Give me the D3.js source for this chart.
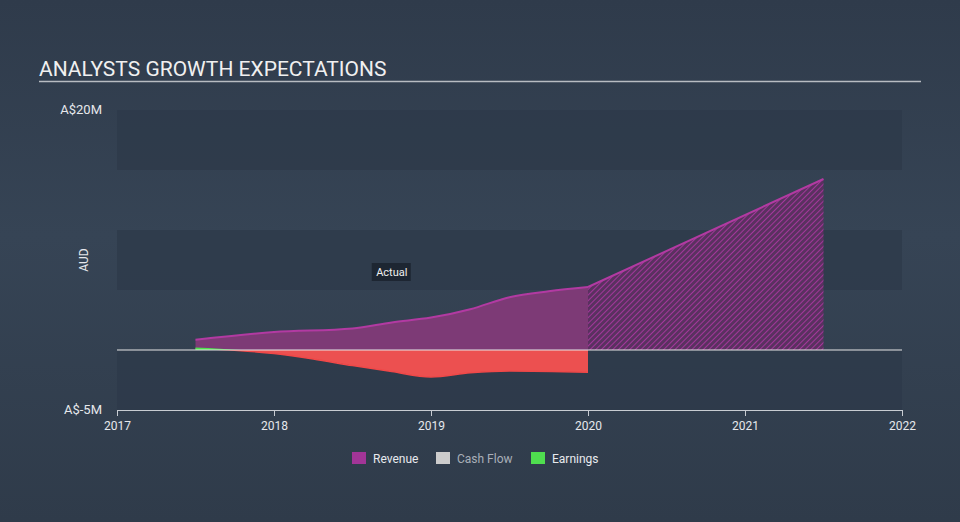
<!DOCTYPE html>
<html>
<head>
<meta charset="utf-8">
<script src="https://cdnjs.cloudflare.com/ajax/libs/d3/7.8.5/d3.min.js"></script>
<style>
  body { margin: 0; background: #333f4f; font-family: Roboto, "Noto Sans", sans-serif; }
  svg { display: block; }
</style>
</head>
<body>
<svg width="960" height="522"></svg>
<script>
// data (millions AUD)
const revenueYears = [2017.5, 2018, 2018.5, 2018.75, 2019, 2019.25, 2019.5, 2019.75, 2020];
const revenueValues = [0.85, 1.5, 1.8, 2.3, 2.7, 3.4, 4.4, 4.9, 5.25];
const forecastYears = [2020, 2021.5];
const forecastValues = [5.25, 14.25];
const earningsYears = [2017.5, 2018, 2018.25, 2018.5, 2018.75, 2019, 2019.25, 2019.5, 2020];
const earningsValues = [0.15, -0.3, -0.75, -1.3, -1.8, -2.25, -1.9, -1.75, -1.85];
const yTickValues = [20, -5];
const yTickLabels = ["A$20M", "A$-5M"];
const xTickValues = [2017, 2018, 2019, 2020, 2021, 2022];
const legendNames = ["Revenue", "Cash Flow", "Earnings"];
const legendColors = ["#a23597", "#cccccc", "#4fde4f"];

const svg = d3.select("svg");
const plotLeft = 117, plotRight = 902, plotTop = 110, plotBottom = 410;

const x = d3.scaleLinear().domain([2017, 2022]).range([plotLeft, plotRight]);
const y = d3.scaleLinear().domain([-5, 20]).range([plotBottom, plotTop]);

// background gradient
const defs = svg.append("defs");
const bg = defs.append("linearGradient").attr("id", "bg").attr("x1", 0).attr("y1", 0).attr("x2", 0).attr("y2", 1);
bg.append("stop").attr("offset", "0%").attr("stop-color", "#2f3b4b");
bg.append("stop").attr("offset", "45%").attr("stop-color", "#364455");
bg.append("stop").attr("offset", "100%").attr("stop-color", "#2f3b4a");
svg.append("rect").attr("width", 960).attr("height", 522).attr("fill", "url(#bg)");

// hatch pattern for forecast
const pat = defs.append("pattern").attr("id", "hatch").attr("patternUnits", "userSpaceOnUse")
  .attr("width", 4).attr("height", 4).attr("patternTransform", "rotate(45)");
pat.append("rect").attr("width", 4).attr("height", 4).attr("fill", "#5a3160");
pat.append("line").attr("x1", 0).attr("y1", 0).attr("x2", 0).attr("y2", 4)
  .attr("stroke", "#a2379a").attr("stroke-width", 2);

defs.append("clipPath").attr("id", "posClip").append("rect")
  .attr("x", 0).attr("y", 0).attr("width", 960).attr("height", y(0));
defs.append("clipPath").attr("id", "negClip").append("rect")
  .attr("x", 0).attr("y", y(0)).attr("width", 960).attr("height", 522);

// bands
const bandSteps = [20, 15, 10, 5, 0];
svg.selectAll(".band").data(bandSteps).enter().append("rect")
  .attr("x", plotLeft).attr("width", plotRight - plotLeft)
  .attr("y", d => y(d)).attr("height", d => y(d - 5) - y(d))
  .attr("fill", (d, i) => i % 2 === 0 ? "#2e3a4a" : "none")
  .attr("opacity", 0.75);

// title
svg.append("text").attr("x", 39).attr("y", 76).text("ANALYSTS GROWTH EXPECTATIONS")
  .attr("fill", "#f0f0f0").attr("font-size", 21).attr("font-family", "Roboto");
svg.append("line").attr("x1", 39).attr("x2", 921).attr("y1", 81.5).attr("y2", 81.5)
  .attr("stroke", "#b8bcc2").attr("stroke-width", 1.5);

const area = d3.area().x(d => x(d.x)).y0(y(0)).y1(d => y(d.v)).curve(d3.curveMonotoneX);
const line = d3.line().x(d => x(d.x)).y(d => y(d.v)).curve(d3.curveMonotoneX);
const areaLin = d3.area().x(d => x(d.x)).y0(y(0)).y1(d => y(d.v));
const lineLin = d3.line().x(d => x(d.x)).y(d => y(d.v));

// revenue
const revData = revenueYears.map((d, i) => ({ x: d, v: revenueValues[i] }));
const fcData = forecastYears.map((d, i) => ({ x: d, v: forecastValues[i] }));
svg.append("path").datum(revData).attr("d", area).attr("fill", "#7d3a76");
svg.append("path").datum(fcData).attr("d", areaLin).attr("fill", "url(#hatch)");

// earnings
const earnData = earningsYears.map((d, i) => ({ x: d, v: earningsValues[i] }));
svg.append("path").datum(earnData).attr("d", area).attr("fill", "#ec5050")
  .attr("clip-path", "url(#negClip)");
svg.append("path").datum(earnData).attr("d", area).attr("fill", "#4fde4f")
  .attr("clip-path", "url(#posClip)");
svg.append("path").datum(earnData).attr("d", line).attr("fill", "none")
  .attr("stroke", "#f04848").attr("stroke-width", 1.5).attr("clip-path", "url(#negClip)");
svg.append("path").datum(earnData).attr("d", line).attr("fill", "none")
  .attr("stroke", "#4fde4f").attr("stroke-width", 1.5).attr("clip-path", "url(#posClip)");

svg.append("path").datum(revData).attr("d", line).attr("fill", "none")
  .attr("stroke", "#b23aa2").attr("stroke-width", 2);
svg.append("path").datum(fcData).attr("d", lineLin).attr("fill", "none")
  .attr("stroke", "#b23aa2").attr("stroke-width", 2);

// zero line
svg.append("line").attr("x1", plotLeft).attr("x2", plotRight).attr("y1", y(0)).attr("y2", y(0))
  .attr("stroke", "#e6e6e6").attr("stroke-width", 1.2);

// y labels
svg.selectAll(".ylab").data(yTickValues).enter().append("text")
  .attr("x", 102).attr("y", d => y(d) + 4).attr("text-anchor", "end")
  .attr("fill", "#e6e8ec").attr("font-size", 13).text((d, i) => yTickLabels[i]);
svg.append("text").attr("transform", "translate(88,260) rotate(-90)")
  .attr("text-anchor", "middle").attr("fill", "#e6e8ec").attr("font-size", 12).text("AUD");

// x axis
const xAxis = svg.append("g").attr("transform", `translate(0,${plotBottom})`)
  .call(d3.axisBottom(x).tickValues(xTickValues).tickFormat(d3.format("d")).tickSize(6).tickSizeOuter(0));
xAxis.select(".domain").attr("stroke", "#c8ccd2");
xAxis.selectAll(".tick line").attr("stroke", "#c8ccd2");
xAxis.selectAll(".tick text").attr("fill", "#e6e8ec").attr("font-size", 12)
  .attr("font-family", "Roboto").attr("dy", "0.9em");

// actual label
const ag = svg.append("g").attr("transform", `translate(${x(2018.75)},272)`);
ag.append("rect").attr("x", -20).attr("y", -9).attr("width", 39).attr("height", 18)
  .attr("fill", "#1c2430").attr("opacity", 0.9);
ag.append("text").attr("text-anchor", "middle").attr("y", 4).attr("fill", "#f0f0f0")
  .attr("font-size", 11).text("Actual");

// legend
const legendX = [352, 436, 531];
const lg = svg.selectAll(".leg").data(legendNames).enter().append("g")
  .attr("transform", (d, i) => `translate(${legendX[i]},452)`);
lg.append("rect").attr("width", 14).attr("height", 12).attr("fill", (d, i) => legendColors[i]);
lg.append("text").attr("x", 21).attr("y", 10.5).attr("font-size", 12)
  .attr("fill", (d, i) => i === 1 ? "#a9afb8" : "#e8eaee").text(d => d);
</script>
</body>
</html>
